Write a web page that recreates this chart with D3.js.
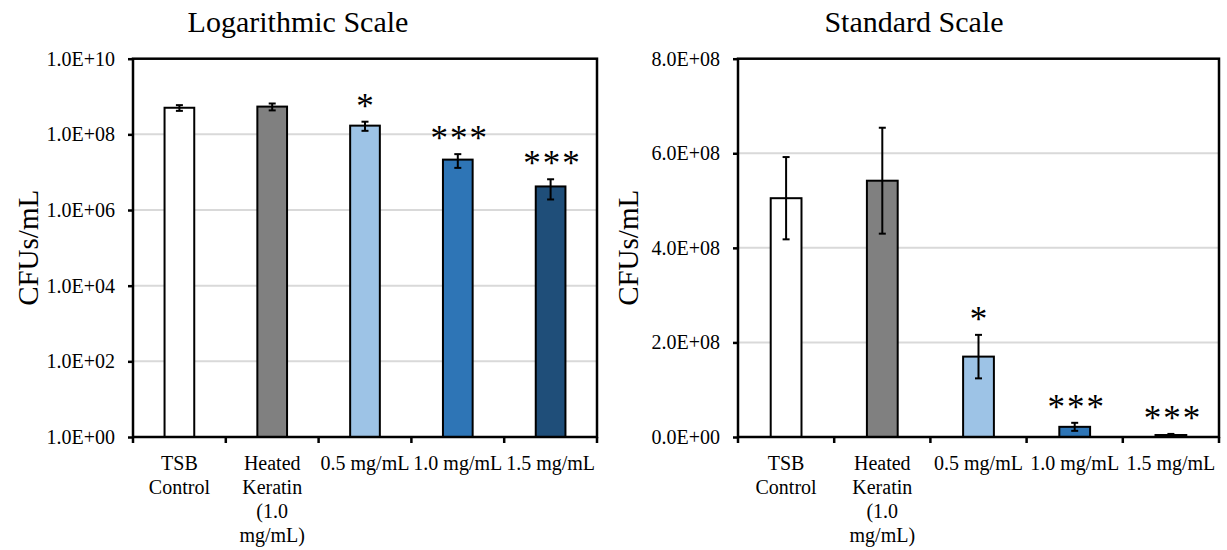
<!DOCTYPE html>
<html>
<head>
<meta charset="utf-8">
<script src="https://cdn.jsdelivr.net/npm/d3@7/dist/d3.min.js"></script>
<style>
  html, body { margin: 0; padding: 0; background: #fff; }
  svg { display: block; }
  text { font-family: "Liberation Serif", "Times New Roman", serif; fill: #000; }
</style>
</head>
<body>
<svg id="chart" width="1227" height="550"></svg>
<script>
// ---- data ----
const categories = ["TSB Control", "Heated Keratin (1.0 mg/mL)", "0.5 mg/mL", "1.0 mg/mL", "1.5 mg/mL"];
const categoryLines = [["TSB", "Control"], ["Heated", "Keratin", "(1.0", "mg/mL)"], ["0.5 mg/mL"], ["1.0 mg/mL"], ["1.5 mg/mL"]];
const meanCFU = [5.05e8, 5.42e8, 1.70e8, 2.15e7, 4.2e6];
const errorCFU = [8.7e7, 1.12e8, 4.6e7, 8.5e6, 2.3e6];
const significance = ["", "", "*", "***", "***"];
const barColors = ["#FFFFFF", "#808080", "#9DC3E6", "#2E75B6", "#1F4E79"];
const logTicks = [1, 1e2, 1e4, 1e6, 1e8, 1e10];
const linTicks = [0, 2e8, 4e8, 6e8, 8e8];
const titles = ["Logarithmic Scale", "Standard Scale"];
const yLabel = "CFUs/mL";

// ---- helpers ----
function sci(v) {
  if (v === 0) return "0.0E+00";
  let e = Math.floor(Math.log10(v) + 1e-9);
  let m = v / Math.pow(10, e);
  if (m >= 9.95) { m /= 10; e += 1; }
  return m.toFixed(1) + "E+" + String(e).padStart(2, "0");
}

const svg = d3.select("#chart");
const rows = categories.map((c, i) => ({ cat: c, lines: categoryLines[i], mean: meanCFU[i], err: errorCFU[i], sig: significance[i], color: barColors[i] }));

function drawPanel(opt) {
  const g = svg.append("g");
  const x = d3.scaleBand().domain(categories).range([opt.x0, opt.x1]).paddingInner(0).paddingOuter(0);
  const y = opt.y;
  const bw = x.bandwidth() * 0.32;

  // gridlines
  g.append("g").selectAll("line").data(opt.ticks.slice(1, -1)).join("line")
    .attr("x1", opt.x0).attr("x2", opt.x1)
    .attr("y1", d => y(d)).attr("y2", d => y(d))
    .attr("stroke", "#d9d9d9").attr("stroke-width", 2);

  // bars
  g.append("g").selectAll("rect").data(rows).join("rect")
    .attr("x", d => x(d.cat) + (x.bandwidth() - bw) / 2)
    .attr("width", bw)
    .attr("y", d => y(d.mean))
    .attr("height", d => y(opt.base) - y(d.mean))
    .attr("fill", d => d.color)
    .attr("stroke", "#000").attr("stroke-width", 2);

  // error bars
  const eg = g.append("g").attr("stroke", "#000").attr("stroke-width", 2);
  const cx = d => x(d.cat) + x.bandwidth() / 2;
  eg.selectAll("line.v").data(rows).join("line").attr("class", "v")
    .attr("x1", cx).attr("x2", cx)
    .attr("y1", d => y(d.mean + d.err)).attr("y2", d => y(Math.max(d.mean - d.err, opt.base)));
  eg.selectAll("line.t").data(rows).join("line").attr("class", "t")
    .attr("x1", d => cx(d) - 3.5).attr("x2", d => cx(d) + 3.5)
    .attr("y1", d => y(d.mean + d.err)).attr("y2", d => y(d.mean + d.err));
  eg.selectAll("line.b").data(rows).join("line").attr("class", "b")
    .attr("x1", d => cx(d) - 3.5).attr("x2", d => cx(d) + 3.5)
    .attr("y1", d => y(Math.max(d.mean - d.err, opt.base))).attr("y2", d => y(Math.max(d.mean - d.err, opt.base)));

  // significance stars
  g.append("g").selectAll("text").data(rows.filter(d => d.sig)).join("text")
    .attr("x", d => cx(d) + (d.sig.length - 1) * 1)
    .attr("y", d => y(d.mean + d.err) - 4)
    .attr("text-anchor", "middle")
    .attr("font-size", 35)
    .attr("letter-spacing", d => d.sig.length > 1 ? "2px" : "0px")
    .text(d => d.sig);

  // frame
  g.append("rect")
    .attr("x", opt.x0).attr("y", y.range()[1])
    .attr("width", opt.x1 - opt.x0).attr("height", y.range()[0] - y.range()[1])
    .attr("fill", "none").attr("stroke", "#000").attr("stroke-width", 2.5);

  // y axis
  const ya = d3.axisLeft(y).tickValues(opt.ticks).tickFormat(sci).tickSize(5).tickSizeOuter(0).tickPadding(13);
  const yg = g.append("g").attr("transform", `translate(${opt.x0},0)`).call(ya);
  yg.select(".domain").remove();
  yg.selectAll(".tick line").attr("stroke", "#000").attr("stroke-width", 2.5);
  yg.selectAll(".tick text").attr("font-family", "Liberation Serif, Times New Roman, serif").attr("font-size", 20).attr("fill", "#000");

  // x axis boundary ticks
  const bounds = categories.map(c => x(c)).concat([opt.x1]);
  g.append("g").selectAll("line").data(bounds).join("line")
    .attr("x1", d => d).attr("x2", d => d)
    .attr("y1", y.range()[0]).attr("y2", y.range()[0] + 6)
    .attr("stroke", "#000").attr("stroke-width", 2.5);

  // category labels
  const lab = g.append("g").selectAll("text").data(rows).join("text")
    .attr("x", cx).attr("y", 469.5)
    .attr("text-anchor", "middle").attr("font-size", 20);
  lab.selectAll("tspan").data(d => d.lines.map(l => ({ l, cx: cx(d) }))).join("tspan")
    .attr("x", d => d.cx).attr("dy", (d, i) => i === 0 ? 0 : 24)
    .text(d => d.l);

  // title
  g.append("text").attr("x", opt.titleX).attr("y", 32).attr("text-anchor", "middle")
    .attr("font-size", 30).text(opt.title);

  // y label
  g.append("text")
    .attr("transform", `translate(${opt.labelX},${(y.range()[0] + y.range()[1]) / 2}) rotate(-90)`)
    .attr("text-anchor", "middle").attr("font-size", 29).text(yLabel);
}

const yTop = 58.7, yBot = 437;
drawPanel({
  x0: 133, x1: 597,
  y: d3.scaleLog().domain([1, 1e10]).range([yBot, yTop]),
  base: 1, ticks: logTicks, title: titles[0], titleX: 298, labelX: 37.5
});
drawPanel({
  x0: 738, x1: 1219,
  y: d3.scaleLinear().domain([0, 8e8]).range([yBot, yTop]),
  base: 0, ticks: linTicks, title: titles[1], titleX: 914, labelX: 637.5
});
</script>
</body>
</html>
